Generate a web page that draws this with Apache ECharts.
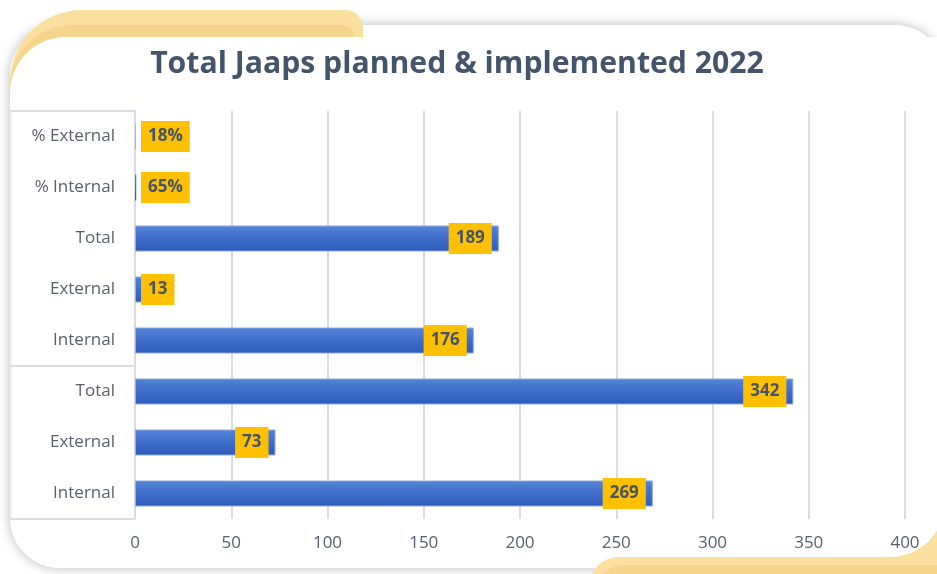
<!DOCTYPE html>
<html><head><meta charset="utf-8">
<script src="https://cdn.jsdelivr.net/npm/echarts@6/dist/echarts.min.js"></script>
<style>html,body{margin:0;padding:0;background:#fff}#c{width:937px;height:574px}</style>
</head><body><div id="c"></div>
<script>
const categories = ['Internal','External','Total','Internal','External','Total','% Internal','% External'];
const values = [269, 73, 342, 176, 13, 189, 0.65, 0.18];
const isPercent = [false,false,false,false,false,false,true,true];
const xTicks = [0,50,100,150,200,250,300,350,400];
const titleText = 'Total Jaaps planned & implemented 2022';

const FONT = '"Open Sans", "Noto Sans", sans-serif';
const chart = echarts.init(document.getElementById('c'));

const barData = values.map((v,i)=>({
  value: v,
  itemStyle: v < 1 ? { borderWidth:0 } : undefined,
  label: { position: v < 30 ? 'insideLeft' : 'insideRight', distance: v < 30 ? 6 : 7 }
}));

const LIGHT = '#fbdf9e', DARK = '#f5d58b';

chart.setOption({
  animation:false,
  backgroundColor:'#ffffff',
  title:{ text:titleText, left:452, textAlign:'center', top:44,
    textStyle:{ fontFamily:FONT, fontSize:30.2, fontWeight:'bold', color:'#44546A' } },
  grid:{ left:135, right:32, top:111, bottom:55 },
  xAxis:{ type:'value', min:xTicks[0], max:xTicks[xTicks.length-1], interval:50,
    axisLine:{show:false}, axisTick:{show:false},
    axisLabel:{ fontFamily:FONT, fontSize:17, color:'#595f6b', margin:16 },
    splitLine:{ lineStyle:{ color:'#d9dce4', width:2 } } },
  yAxis:{ type:'category', data:categories,
    axisLine:{ show:true, lineStyle:{ color:'#d9dce4', width:2 } },
    axisTick:{show:false},
    axisLabel:{ fontFamily:FONT, fontSize:17, color:'#595f6b', margin:20 } },
  graphic:[
    { type:'rect', z:-20, silent:true, shape:{ x:10, y:25, width:935, height:543, r:50 },
      style:{ fill:'#ffffff', shadowBlur:12, shadowColor:'rgba(0,0,0,0.28)' } },
    { type:'rect', z:-19, silent:true, shape:{ x:10, y:10, width:353, height:110, r:[72,18,0,0] }, style:{ fill:LIGHT } },
    { type:'rect', z:-18, silent:true, shape:{ x:10, y:25, width:344, height:95, r:[62,12,0,0] }, style:{ fill:DARK } },
    { type:'rect', z:-17, silent:true, shape:{ x:10, y:37, width:960, height:531, r:[56,0,0,50] }, style:{ fill:'#ffffff' } },
    { type:'rect', z:-16, silent:true, shape:{ x:589, y:557, width:400, height:30, r:[38,0,0,0] }, style:{ fill:LIGHT } },
    { type:'rect', z:-16, silent:true, shape:{ x:860, y:500, width:90, height:80 }, style:{ fill:LIGHT } },
    { type:'rect', z:-15, silent:true, shape:{ x:594, y:565, width:400, height:30, r:[30,0,0,0] }, style:{ fill:DARK } },
    { type:'rect', z:-14, silent:true, shape:{ x:600, y:300, width:345, height:257, r:[0,0,55,0] }, style:{ fill:'#ffffff' } },
    { type:'line', z:-10, silent:true, shape:{ x1:10, y1:111, x2:134, y2:111 }, style:{ stroke:'#d9dce4', lineWidth:2 } },
    { type:'line', z:-10, silent:true, shape:{ x1:10, y1:366, x2:134, y2:366 }, style:{ stroke:'#d9dce4', lineWidth:2 } },
    { type:'line', z:-10, silent:true, shape:{ x1:10, y1:519, x2:134, y2:519 }, style:{ stroke:'#d9dce4', lineWidth:2 } },
    { type:'line', z:-10, silent:true, shape:{ x1:11, y1:111, x2:11, y2:519 }, style:{ stroke:'#e3e5ea', lineWidth:1 } }
  ],
  series:[{
    type:'bar', data:barData, barWidth:26,
    itemStyle:{
      color: new echarts.graphic.LinearGradient(0,0,0,1,[
        {offset:0,color:'#5684d6'},{offset:0.5,color:'#3f6dca'},{offset:1,color:'#2d5bb9'}]),
      borderColor:'#8eaadf', borderWidth:1
    },
    label:{ show:true, fontFamily:FONT, fontSize:17, fontWeight:'bold', color:'#44546A',
      backgroundColor:'#FFC000', padding:[8,7,6,7],
      formatter: p => isPercent[p.dataIndex] ? Math.round(p.value*100)+'%' : String(p.value) }
  }]
});
</script></body></html>
